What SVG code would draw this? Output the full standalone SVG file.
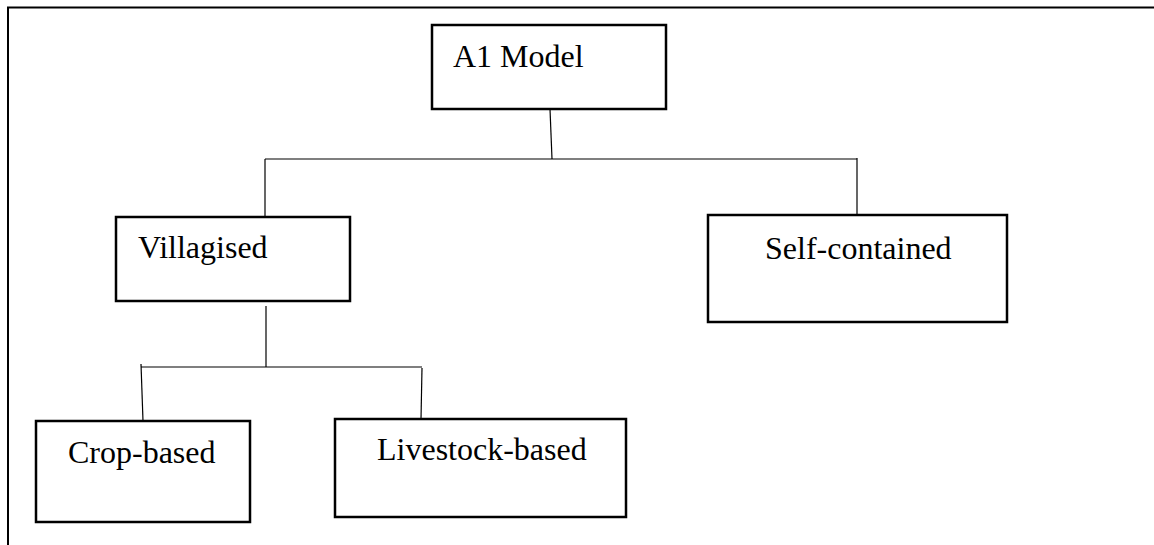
<svg xmlns="http://www.w3.org/2000/svg" width="1154" height="545" viewBox="0 0 1154 545">
<style>
.box{fill:#fff;stroke:#000;stroke-width:2.5}
.lbl{font-family:"Liberation Serif","Times New Roman",serif;font-size:32px;fill:#000}
.con{fill:none;stroke:#000;stroke-width:1.2}
.frame{fill:none;stroke:#000;stroke-width:2}
</style>
<rect width="1154" height="545" fill="#fff"/>
<path class="frame" d="M8,545 V7.5 H1154"/>
<g id="connectors">
<path class="con" d="M550,109 L552,159"/>
<path class="con" d="M265,159 H857"/>
<path class="con" d="M265,159 V216"/>
<path class="con" d="M857,158 V215"/>
<path class="con" d="M266,306 V367"/>
<path class="con" d="M141,367 H422"/>
<path class="con" d="M141,364 L143,421"/>
<path class="con" d="M422,368 L421,419"/>
</g>
<g id="a1model">
<rect class="box" x="432" y="25" width="234" height="84"/>
<text class="lbl" x="453" y="67">A1 Model</text>
</g>
<g id="villagised">
<rect class="box" x="116" y="217" width="234" height="84"/>
<text class="lbl" x="138" y="258">Villagised</text>
</g>
<g id="selfcontained">
<rect class="box" x="708" y="215" width="299" height="107"/>
<text class="lbl" x="765" y="259">Self-contained</text>
</g>
<g id="cropbased">
<rect class="box" x="36" y="421" width="214" height="101"/>
<text class="lbl" x="68" y="463">Crop-based</text>
</g>
<g id="livestockbased">
<rect class="box" x="335" y="419" width="291" height="98"/>
<text class="lbl" x="377" y="460">Livestock-based</text>
</g>
</svg>
